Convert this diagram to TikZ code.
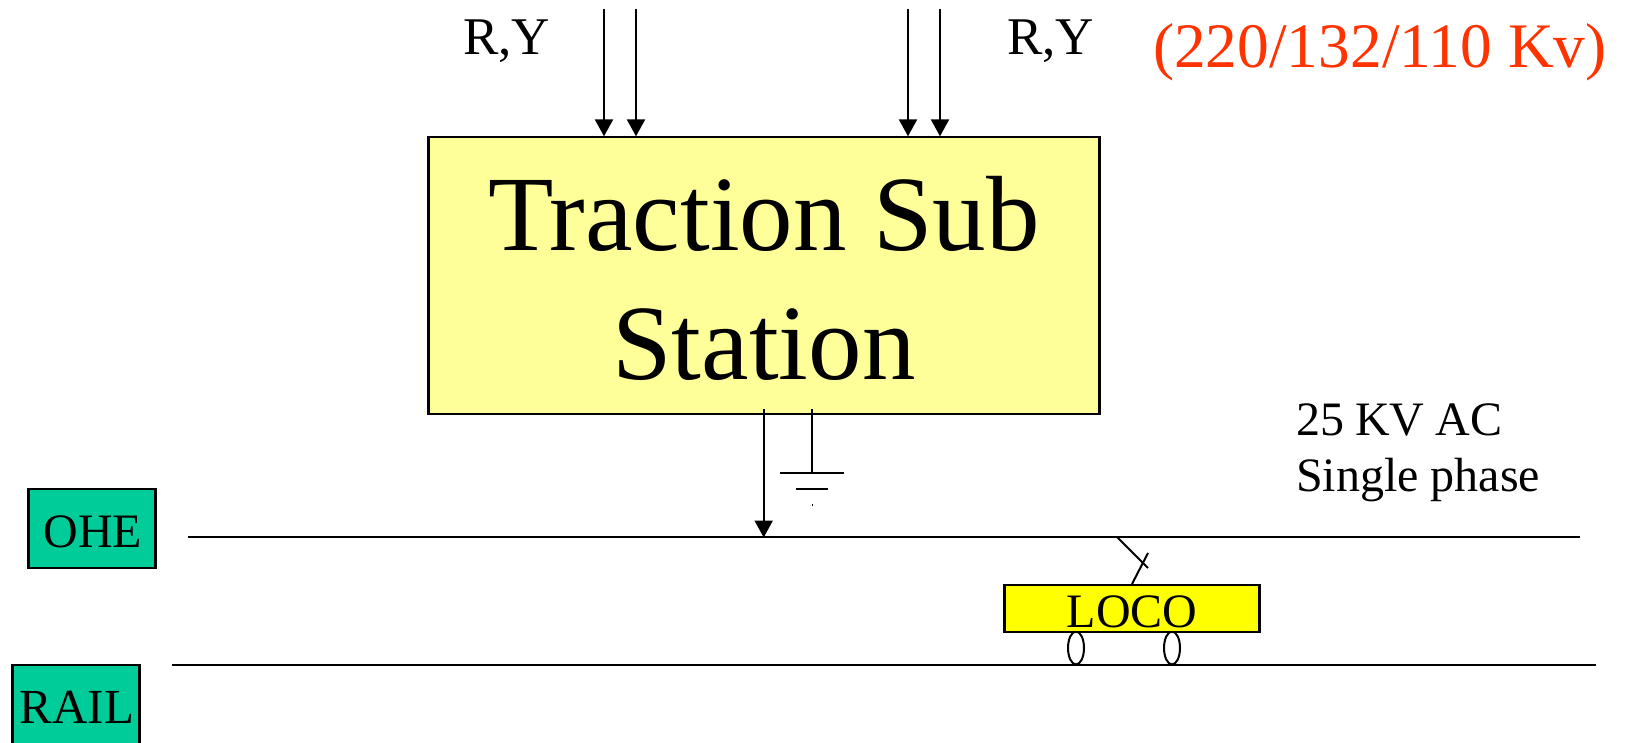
\documentclass[tikz,border=0pt]{standalone}
\usepackage{fontspec}
\setmainfont{Liberation Serif}
\usetikzlibrary{arrows.meta}
\definecolor{boxyellow}{HTML}{FFFF99}
\definecolor{locoyellow}{HTML}{FFFF00}
\definecolor{ohegreen}{HTML}{00CC99}
\definecolor{redtext}{HTML}{FF3300}
\tikzset{
  wire/.style={line width=2.3pt,black},
  feed/.style={wire,-{Triangle[width=18pt,length=17pt]},shorten >=-0.5pt},
  greenbox/.style={draw=black,line width=2.4pt,fill=ohegreen,inner sep=0pt,text width=127pt,align=center},
  label/.style={inner sep=0pt,font=\fontsize{48}{57}\selectfont},
}
\begin{document}
\begin{tikzpicture}[x=1pt,y=-1pt]
\useasboundingbox (0,0) rectangle (1625,743);
\fill[white] (0,0) rectangle (1625,743);
% main box
\node[draw=black,line width=2.4pt,fill=boxyellow,minimum width=671pt,minimum height=277pt,inner sep=0pt] (tss) at (764,275.5) {};
\node[inner sep=0pt,align=center,font=\fontsize{107}{129}\selectfont] (tsstext) at (764,278) {Traction Sub\\Station};
% rails
\coordinate (oheL) at (188,537);
\coordinate (oheR) at (1580,537);
\coordinate (railL) at (172,665);
\coordinate (railR) at (1596,665);
\draw[wire] (oheL) -- (oheR);
\draw[wire] (railL) -- (railR);
% infeed
\coordinate (a1) at (604,9);
\coordinate (a2) at (636,9);
\coordinate (a3) at (908,9);
\coordinate (a4) at (940,9);
\foreach \c in {a1,a2,a3,a4} \draw[feed] (\c) -- (\c |- tss.north);
% output
\coordinate (o) at (763.7,409);
\draw[feed] (o) -- (o |- oheL);
% ground
\coordinate (g0) at (811.7,409);
\coordinate (g1) at (811.7,472.7);
\coordinate (g1l) at (780,472.7);
\coordinate (g1r) at (844,472.7);
\coordinate (g2l) at (796,489);
\coordinate (g2r) at (828,489);
\coordinate (g3t) at (812,504);
\coordinate (g3b) at (812,506);
\draw[wire] (g0) -- (g1);
\draw[wire] (g1l) -- (g1r);
\draw[wire] (g2l) -- (g2r);
\draw[line width=1pt] (g3t) -- (g3b);
% loco
\draw[line width=2pt,fill=white] (1076,648) ellipse [x radius=8,y radius=16.5];
\draw[line width=2pt,fill=white] (1172,648) ellipse [x radius=8,y radius=16.5];
\node[draw=black,line width=2.4pt,fill=locoyellow,minimum width=255pt,minimum height=47pt,inner sep=0pt] (loco) at (1132,608.5) {};
\node[inner sep=0pt,anchor=base,font=\fontsize{48}{48}\selectfont] (locotext) at (1132,627) {LOCO};
% pantograph
\coordinate (p1) at (1117,537);
\coordinate (p2) at (1148,568);
\coordinate (p3) at (1132,584);
\coordinate (p4) at (1148,553);
\draw[line width=2pt] (p1) -- (p2);
\draw[line width=2pt] (p3) -- (p4);
% green labels
\node[greenbox,anchor=base,text height=58pt,text depth=21pt,font=\fontsize{48}{48}\selectfont] (ohe) at (92,547) {\hspace*{2pt}OHE};
\node[greenbox,anchor=base,text height=58pt,text depth=40pt,font=\fontsize{49}{49}\selectfont] (rail) at (76,723) {\hspace*{2pt}RAIL};
% text
\node[inner sep=0pt,anchor=base west,font=\fontsize{53}{53}\selectfont] (ry1) at (463,55) {R,Y};
\node[inner sep=0pt,anchor=base west,font=\fontsize{53}{53}\selectfont] (ry2) at (1007,55) {R,Y};
\node[inner sep=0pt,anchor=base east,text=redtext,font=\fontsize{63.4}{64}\selectfont] (kv) at (1607,68) {(220/132/110 Kv)};
\node[label,anchor=base west] (ac1) at (1296,435) {\spaceskip=.23em 25 KV AC};
\node[label,anchor=base west] (ac2) at (1296,491) {Single phase};
\end{tikzpicture}
\end{document}
